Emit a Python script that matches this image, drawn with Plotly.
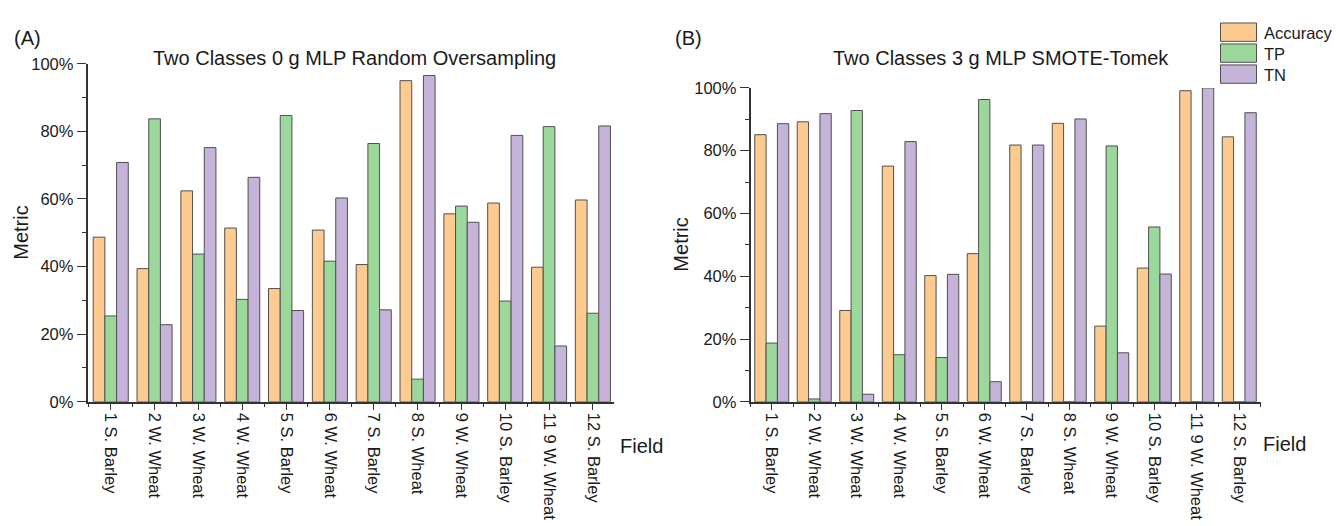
import plotly.graph_objects as go

# Field names shared by both panels
fields = ["1 S. Barley", "2 W. Wheat", "3 W. Wheat", "4 W. Wheat", "5 S. Barley",
          "6 W. Wheat", "7 S. Barley", "8 S. Wheat", "9 W. Wheat", "10 S. Barley",
          "11 9 W. Wheat", "12 S. Barley"]

# Panel (A): Two Classes 0 g MLP Random Oversampling (percent)
a_accuracy = [48.7, 39.4, 62.4, 51.4, 33.5, 50.8, 40.6, 95.0, 55.6, 58.8, 39.8, 59.7]
a_tp = [25.4, 83.7, 43.7, 30.3, 84.7, 41.6, 76.4, 6.7, 57.9, 29.8, 81.4, 26.2]
a_tn = [70.8, 22.8, 75.2, 66.4, 27.0, 60.3, 27.2, 96.5, 53.1, 78.8, 16.5, 81.6]

# Panel (B): Two Classes 3 g MLP SMOTE-Tomek (percent)
b_accuracy = [85.1, 89.2, 29.1, 75.1, 40.2, 47.2, 81.8, 88.7, 24.1, 42.6, 99.1, 84.4]
b_tp = [18.7, 0.9, 92.8, 15.0, 14.1, 96.3, 0.0, 0.0, 81.5, 55.7, 0.0, 0.0]
b_tn = [88.6, 91.8, 2.4, 82.9, 40.6, 6.4, 81.8, 90.1, 15.6, 40.7, 100.0, 92.1]

series_names = ["Accuracy", "TP", "TN"]
series_colors = ["#FDCA8F", "#9CD89B", "#C5B3D9"]

W, H = 1336, 526
FONT = "Liberation Sans, Arial, sans-serif"
INK = "#1a1a1a"
AXIS = "#333333"

positions = list(range(1, len(fields) + 1))

fig = go.Figure()

panels = [
    ("x", "y", [a_accuracy, a_tp, a_tn]),
    ("x2", "y2", [b_accuracy, b_tp, b_tn]),
]
for xa, ya, series in panels:
    for name, color, vals in zip(series_names, series_colors, series):
        fig.add_trace(go.Bar(
            x=positions, y=vals, name=name, xaxis=xa, yaxis=ya,
            marker=dict(color=color, line=dict(color="#505050", width=1)),
            showlegend=False,
        ))


def px_x(p):
    return p / W


def px_y(p):
    return 1 - p / H


def x_axis(domain, rng):
    return dict(
        domain=domain, range=rng, type="linear",
        tickmode="array", tickvals=positions, ticktext=fields,
        tickangle=90, ticks="outside", ticklen=6, tickwidth=1.3, tickcolor=AXIS,
        minor=dict(tickmode="linear", tick0=0.5, dtick=1, ticks="outside",
                   ticklen=3, tickwidth=1.3, tickcolor=AXIS),
        showline=True, linecolor=AXIS, linewidth=1.5,
        showgrid=False, zeroline=False,
        tickfont=dict(family=FONT, size=16.5, color=INK),
        fixedrange=True,
    )


def y_axis(domain, anchor):
    return dict(
        domain=domain, range=[0, 100], anchor=anchor,
        tickmode="linear", tick0=0, dtick=20, ticksuffix="%",
        ticks="outside", ticklen=9, tickwidth=1.3, tickcolor=AXIS,
        minor=dict(tickmode="linear", tick0=0, dtick=10, ticks="outside",
                   ticklen=4, tickwidth=1.3, tickcolor=AXIS),
        showline=True, linecolor=AXIS, linewidth=1.5,
        showgrid=False, zeroline=False,
        tickfont=dict(family=FONT, size=16.5, color=INK),
        fixedrange=True,
    )


fig.update_layout(
    width=W, height=H, autosize=False,
    margin=dict(l=0, r=0, t=0, b=0),
    paper_bgcolor="white", plot_bgcolor="white",
    barmode="group", bargap=0.2, bargroupgap=0,
    xaxis=dict(x_axis([px_x(87.5), px_x(613.5)], [0.47, 12.47]), anchor="y"),
    yaxis=y_axis([px_y(406.7), px_y(56.7)], "x"),
    xaxis2=dict(x_axis([px_x(750.5), px_x(1260.5)], [0.5, 12.5]), anchor="y2"),
    yaxis2=y_axis([px_y(406.7), px_y(81.7)], "x2"),
    showlegend=False,
)

ann = []


def text(x, y, s, size, angle=0, xanchor="center"):
    ann.append(dict(
        x=px_x(x), y=px_y(y), xref="paper", yref="paper", text=s,
        showarrow=False, textangle=angle, xanchor=xanchor, yanchor="middle",
        font=dict(family=FONT, size=size, color=INK),
    ))


# panel letters and titles
text(12, 30, "(A)", 20, xanchor="left")
text(673, 30, "(B)", 20, xanchor="left")
text(354, 51, "Two Classes 0 g MLP Random Oversampling", 20)
text(1001, 51, "Two Classes 3 g MLP SMOTE-Tomek", 20)

# axis titles
text(21, 231.7, "Metric", 20, angle=-90)
text(681, 244, "Metric", 20, angle=-90)
text(618, 452, "Field", 20, xanchor="left")
text(1261, 450, "Field", 20, xanchor="left")

# legend: large swatches with labels
shapes = []
for i, (name, color) in enumerate(zip(series_names, series_colors)):
    top = 14.5 + i * 21.7
    shapes.append(dict(
        type="rect", xref="paper", yref="paper",
        x0=px_x(1220.5), x1=px_x(1256.5), y0=px_y(top + 19), y1=px_y(top),
        fillcolor=color, line=dict(color="#505050", width=1),
    ))
    text(1262, top + 10, name, 16.5, xanchor="left")

fig.update_layout(annotations=ann, shapes=shapes)

fig.write_html("out.html")
